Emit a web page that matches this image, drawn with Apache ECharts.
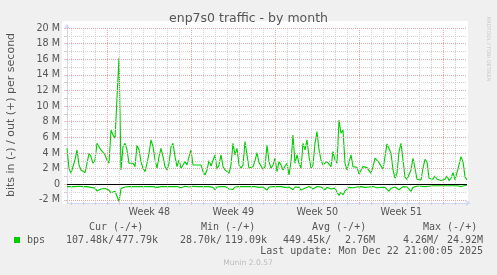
<!DOCTYPE html>
<html><head><meta charset="utf-8">
<script src="https://cdn.jsdelivr.net/npm/echarts@6/dist/echarts.min.js"></script>
<style>html,body{margin:0;padding:0;background:#F0F0F0}#c{width:497px;height:275px}</style>
</head><body><div id="c"></div><script>
// ---- data (Mbit/s), 4-hour samples ----
const startDay = -3.36;          // days relative to Monday of Week 48
const stepDay = 1 / 6;           // 4 hours
const outMbps = [
4.6,2.05,1.41,1.62,3.11,4.39,2.47,1.83,1.62,1.49,2.68,3.96,3.54,2.68,3.11,5.24,4.81,4.39,4.39,3.75,3.11,2.68,6.95,6.31,5.88,5.67,16.2,1.83,4.81,5.24,4.39,2.68,2.47,2.68,2.26,5.03,4.39,2.9,2.05,1.62,2.68,3.96,5.67,4.81,3.11,2.05,3.54,4.6,3.54,2.26,1.83,2.68,4.81,5.24,3.54,2.26,3.11,2.05,2.47,2.9,2.47,3.54,4.39,2.47,2.68,2.47,2.68,
2.47,1.62,1.19,1.83,3.02,2.34,2.47,3.75,1.92,2.47,3.75,2.26,1.83,1.92,1.4,2.47,5.24,3.75,4.6,2.47,2.05,2.47,5.45,3.75,2.05,1.92,2.26,3.02,4.05,2.77,3.02,1.92,2.26,5.03,2.9,2.05,2.47,3.33,1.62,2.9,2.47,1.83,2.34,2.68,1.19,2.9,6.31,2.68,3.75,2.68,2.05,5.24,4.39,5.67,3.54,2.05,2.47,5.24,6.73,4.39,3.11,2.47,2.47,2.9,3.11,2.26,4.18,
3.11,2.68,8.2,6.53,6.95,2.68,1.83,2.05,3.75,2.26,2.13,2.17,1.33,1.4,2.26,2.26,2.13,2.13,1.4,2.26,3.33,3.54,2.77,2.6,1.92,3.54,5.16,5.16,3.96,1.83,0.77,1.4,4.18,5.24,3.11,0.9,0.64,0.64,1.83,3.33,2.05,0.64,0.55,0.55,2.05,3.2,2.9,0.77,0.55,0.64,1.06,0.64,0.55,0.47,0.47,0.64,1.06,0.47,0.77,1.49,0.55,0.47,2.47,3.54,2.9,0.98,0.55
];
const inMbps = [
-0.3,-0.25,-0.3,-0.35,-0.3,-0.3,-0.25,-0.3,-0.3,-0.35,-0.3,-0.3,-0.4,-0.35,-0.5,-0.85,-0.8,-0.6,-0.5,-0.55,-0.65,-0.75,-1.1,-0.95,-0.9,-0.8,-2.2,-0.55,-0.4,-0.35,-0.4,-0.3,-0.35,
-0.3,-0.35,-0.3,-0.4,-0.3,-0.25,-0.3,-0.5,-0.3,-0.35,-0.3,-0.25,-0.4,-0.3,-0.3,-0.55,-0.3,-0.35,-0.3,-0.25,-0.3,-0.4,-0.3,-0.3,-0.45,-0.3,-0.25,-0.3,-0.35,-0.3,-0.25,-0.35,-0.3,-0.3,
-0.3,-0.25,-0.3,-0.35,-0.3,-0.3,-0.4,-0.7,-0.35,-0.3,-0.3,-0.35,-0.3,-0.4,-0.6,-0.4,-0.65,-0.35,-0.3,-0.3,-0.35,-0.3,-0.25,-0.3,-0.4,-0.3,-0.35,-0.3,-0.3,-0.4,-0.3,-0.35,-0.5,-0.75,-0.35,-0.3,-0.3,-0.25,-0.3,-0.35,-0.3,-0.3,-0.4,-0.3,-0.35,-0.4,-0.7,-0.35,-0.3,-0.4,-0.75,-0.95,-0.5,-0.35,-0.3,-0.35,-0.6,-0.4,-0.3,-0.3,-0.35,-0.4,-0.7,-0.4,-0.3,-0.6,-0.35,
-0.5,-0.7,-1.45,-1.0,-1.35,-0.85,-0.6,-0.4,-0.5,-0.45,-0.4,-0.35,-0.4,-0.3,-0.35,-0.4,-0.3,-0.35,-0.4,-0.3,-0.35,-0.45,-0.7,-0.4,-0.35,-0.4,-0.55,-0.9,-0.5,-0.3,-0.35,-0.5,-0.7,-0.45,-0.3,-0.3,-0.35,-0.4,-0.9,-0.4,-0.3,-0.25,-0.3,-0.25,-0.2,-0.3,-0.5,-0.25,-0.2,-0.2,-0.3,-0.2,-0.15,-0.2,-0.3,-0.2,-0.15,-0.2,-0.35,-0.2,-0.15,-0.2,-0.35,-0.3,-0.2,-0.15,-0.1
];
const weekStarts = [0, 7, 14, 21, 28];
const weekLabels = ['Week 48', 'Week 49', 'Week 50', 'Week 51'];
const weekLabelDays = [3.5, 10.5, 17.5, 24.5];
const yMajor = [-2, 0, 2, 4, 6, 8, 10, 12, 14, 16, 18, 20];
const yMinor = [-1, 1, 3, 5, 7, 9, 11, 13, 15, 17, 19];
const yMin = -2.4, yMax = 20;
const statHeads = ['Cur (-/+)', 'Min (-/+)', 'Avg (-/+)', 'Max (-/+)'];
const statIn = ['107.48k', '28.70k', '449.45k', '4.26M'];
const statOut = ['477.79k', '119.09k', '2.76M', '24.92M'];
const seriesName = 'bps';
const lastUpdate = 'Last update: Mon Dec 22 21:00:05 2025';

// ---- build ----
const xMin = startDay, xMax = startDay + (outMbps.length - 1) * stepDay;
const toPts = arr => arr.map((v, i) => [startDay + i * stepDay, v]);
const dayList = [];
for (let d = Math.ceil(xMin); d <= Math.floor(xMax); d++) dayList.push(d);
const gridLines = [];
dayList.forEach(d => {
  const major = weekStarts.includes(d);
  gridLines.push({ xAxis: d, lineStyle: { color: major ? '#EBA5A5' : '#D2D2D2', type: [1, 1], width: 1 } });
});
yMinor.forEach(v => gridLines.push({ yAxis: v, lineStyle: { color: '#D2D2D2', type: [1, 1], width: 1 } }));
yMajor.forEach(v => { if (v !== 0) gridLines.push({ yAxis: v, lineStyle: { color: '#EBA5A5', type: [1, 1], width: 1 } }); });

const mono = '10px "DejaVu Sans Mono"';
const txt = '#555';
const heads = [89, 201, 312, 423];
const inStart = [66, 180, 283, 403];
const outEnd = [158, 267, 375, 483];
const graphics = [
  { type: 'rect', z: 0, shape: { x: 62, y: 21, width: 406, height: 183 }, style: { fill: '#FFFFFF' } },
  { type: 'text', x: 248.5, y: 19, style: { text: 'enp7s0 traffic - by month', font: '12.5px "DejaVu Sans"', fill: txt, textAlign: 'center', textVerticalAlign: 'middle' } },
  { type: 'text', x: 11.5, y: 115, rotation: Math.PI / 2, style: { text: 'bits in (-) / out (+) per second', font: '11px "DejaVu Sans"', fill: txt, textAlign: 'center', textVerticalAlign: 'middle' } },
  { type: 'text', x: 488, y: 49, rotation: -Math.PI / 2, style: { text: 'RRDTOOL / TOBI OETIKER', font: '5px "DejaVu Sans"', fill: '#C8C8C8', textAlign: 'center', textVerticalAlign: 'middle' } },
  { type: 'rect', shape: { x: 14, y: 237, width: 6, height: 6 }, style: { fill: '#00CC00' } },
  { type: 'text', x: 27, y: 240, style: { text: seriesName, font: mono, fill: txt, textAlign: 'left', textVerticalAlign: 'middle' } },
  { type: 'text', x: 483, y: 251.5, style: { text: lastUpdate, font: mono, fill: txt, textAlign: 'right', textVerticalAlign: 'middle' } },
  { type: 'text', x: 248, y: 263.5, style: { text: 'Munin 2.0.57', font: '7.6px "DejaVu Sans"', fill: '#BBBBBB', textAlign: 'center', textVerticalAlign: 'middle' } }
];
statHeads.forEach((h, i) => {
  graphics.push({ type: 'text', x: heads[i], y: 227.5, style: { text: h, font: mono, fill: txt, textAlign: 'left', textVerticalAlign: 'middle' } });
  graphics.push({ type: 'text', x: inStart[i], y: 240, style: { text: statIn[i] + '/', font: mono, fill: txt, textAlign: 'left', textVerticalAlign: 'middle' } });
  graphics.push({ type: 'text', x: outEnd[i], y: 240, style: { text: statOut[i], font: mono, fill: txt, textAlign: 'right', textVerticalAlign: 'middle' } });
});

const chart = echarts.init(document.getElementById('c'), null, { renderer: 'canvas' });
chart.setOption({
  animation: false,
  backgroundColor: '#F0F0F0',
  grid: { left: 67, right: 30, top: 28, bottom: 72 },
  graphic: graphics,
  xAxis: {
    type: 'value', min: xMin, max: xMax,
    axisLine: { show: true, onZero: false, lineStyle: { color: '#CFD6F8', width: 1 }, symbol: ['none', 'arrow'], symbolSize: [5, 5], symbolOffset: [0, 3.5] },
    axisTick: { show: true, customValues: dayList, length: 2, lineStyle: { color: '#E0C8C8', width: 1 } },
    splitLine: { show: false },
    axisLabel: { customValues: weekLabelDays, formatter: v => weekLabels[weekLabelDays.indexOf(v)] || '', color: txt, fontSize: 9.6, fontFamily: 'DejaVu Sans', margin: 4 }
  },
  yAxis: {
    type: 'value', min: yMin, max: yMax,
    axisLine: { show: true, onZero: false, lineStyle: { color: '#CFD6F8', width: 1 }, symbol: ['none', 'arrow'], symbolSize: [5, 5], symbolOffset: [0, 4] },
    axisTick: { show: true, customValues: yMajor.concat(yMinor), length: 3, lineStyle: { color: '#E0C8C8', width: 1 } },
    splitLine: { show: false },
    axisLabel: { customValues: yMajor, formatter: v => v === 0 ? '0' : v + ' M', color: txt, fontSize: 9.6, fontFamily: 'DejaVu Sans', margin: 7 }
  },
  series: [
    { type: 'line', z: 1, data: [], silent: true,
      markLine: { silent: true, symbol: ['none', 'none'], label: { show: false }, animation: false, data: gridLines } },
    { type: 'line', z: 2, data: [], silent: true,
      markLine: { silent: true, symbol: ['none', 'none'], label: { show: false }, animation: false,
        data: [{ yAxis: 0, lineStyle: { color: '#000000', type: 'solid', width: 1 } }] } },
    { name: 'out', type: 'line', z: 3, data: toPts(outMbps), showSymbol: false, symbol: 'none', lineStyle: { color: '#00CC00', width: 1.1 }, silent: true },
    { name: 'in', type: 'line', z: 3, data: toPts(inMbps), showSymbol: false, symbol: 'none', lineStyle: { color: '#00CC00', width: 1.1 }, silent: true }
  ]
});
</script></body></html>
